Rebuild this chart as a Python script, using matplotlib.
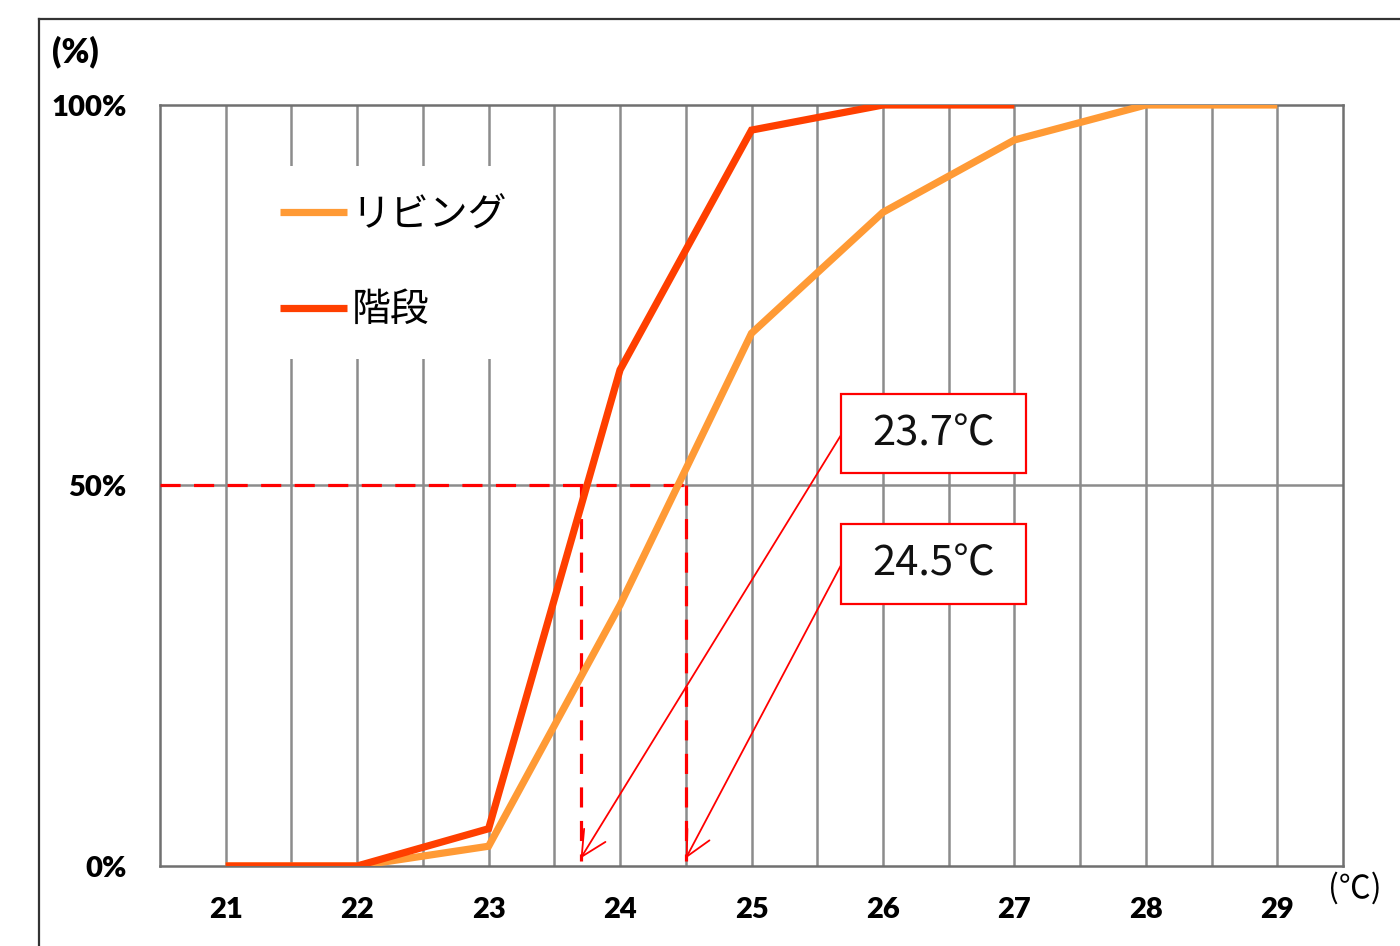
import matplotlib
matplotlib.use("Agg")
import matplotlib.pyplot as plt
from matplotlib.patches import Rectangle
from matplotlib.lines import Line2D

# temperature (℃) and cumulative share (%)
temps_living = [21, 22, 23, 24, 25, 26, 27, 28, 29]
share_living = [0, 0, 2.6, 34.3, 70.0, 85.9, 95.4, 100, 100]
temps_stairs = [21, 22, 23, 24, 25, 26, 27]
share_stairs = [0, 0, 4.9, 65.2, 96.7, 100, 100]
series_names = ["リビング", "階段"]
x_ticks = [21, 22, 23, 24, 25, 26, 27, 28, 29]
y_ticks = [0, 50, 100]
y_labels = ["0%", "50%", "100%"]
median_stairs = 23.7
median_living = 24.5
median_labels = ["23.7℃", "24.5℃"]

C_LIVING = "#FF9A35"
C_STAIRS = "#FF3F00"
C_RED = "#FF0000"
C_GRID = "#8C8C8C"

JP = ["Noto Sans CJK JP", "DejaVu Sans"]

fig = plt.figure(figsize=(14, 9.46), dpi=100)
ax = fig.add_axes([160 / 1400, 1 - 866 / 946, (1343 - 160) / 1400, (866 - 105) / 946])

ax.set_xlim(20.5, 29.5)
ax.set_ylim(0, 100)

# grid: vertical every half degree, horizontal at 50%
ax.set_xticks(x_ticks)
ax.set_yticks(y_ticks)
ax.set_yticklabels(y_labels)
for v in [x * 0.5 for x in range(42, 59)]:
    ax.axvline(v, color=C_GRID, lw=1.8, zorder=1)
ax.axhline(50, color=C_GRID, lw=1.8, zorder=1)
ax.tick_params(axis="both", which="both", length=0)
ax.tick_params(axis="x", pad=22)
ax.tick_params(axis="y", pad=24)
for lbl in ax.get_xticklabels() + ax.get_yticklabels():
    lbl.set_fontfamily("Lato")
    lbl.set_fontweight("heavy")
    lbl.set_fontsize(21)
for s in ax.spines.values():
    s.set_color("#707070")
    s.set_linewidth(1.8)

# reference lines at the 50% point
dash = (0, (6.3, 4.2))
ax.plot([20.5, median_living], [50, 50], color=C_RED, lw=2.3, ls=dash, zorder=3)
ax.plot([median_stairs, median_stairs], [50, 0.6], color=C_RED, lw=2.3, ls=dash, zorder=3)
ax.plot([median_living, median_living], [50, 0.6], color=C_RED, lw=2.3, ls=dash, zorder=3)

# series
ax.plot(temps_living, share_living, color=C_LIVING, lw=5.2,
        solid_capstyle="butt", solid_joinstyle="miter", label=series_names[0], zorder=4)
ax.plot(temps_stairs, share_stairs, color=C_STAIRS, lw=5.2,
        solid_capstyle="butt", solid_joinstyle="miter", label=series_names[1], zorder=5)

# callout boxes with arrows
boxes = [(25.68, 51.6, 1.41, 10.4, 56.6, median_stairs),
         (25.68, 34.4, 1.41, 10.5, 39.5, median_living)]
for (bx, by, bw, bh, ay, target), txt in zip(boxes, median_labels):
    ax.add_patch(Rectangle((bx, by), bw, bh, facecolor="white",
                           edgecolor=C_RED, lw=1.6, zorder=6))
    ax.text(bx + bw / 2, by + bh / 2, txt, ha="center", va="center",
            fontsize=30, family=JP, color="#111111", zorder=7)
    ax.annotate("", xy=(target, 1.0), xytext=(bx, ay),
                arrowprops=dict(arrowstyle="->,head_length=0.9,head_width=0.45",
                                color=C_RED, lw=1.3, mutation_scale=20,
                                shrinkA=0, shrinkB=0),
                zorder=6)

leg = ax.legend(loc="upper left", bbox_to_anchor=(0.077, 0.92),
                prop={"family": JP, "size": 28}, frameon=True,
                facecolor="white", edgecolor="none", framealpha=1,
                fancybox=False, handlelength=1.72, handletextpad=0.12,
                labelspacing=1.42, borderpad=0.75, borderaxespad=0)
leg.set_zorder(8)

# axis unit captions
fig.text(52 / 1400, 1 - 52 / 946, "(%)", fontsize=24, fontweight="heavy",
         family="Lato", ha="left", va="center")
fig.text(1328 / 1400, 1 - 888 / 946, "(℃)", fontsize=23, family=JP,
         ha="left", va="center")

# outer frame running off the right and bottom edges
fig.add_artist(Line2D([39 / 1400, 39 / 1400], [0, 1 - 19 / 946],
                      transform=fig.transFigure, color="#333333", lw=1.6))
fig.add_artist(Line2D([39 / 1400, 1], [1 - 19 / 946, 1 - 19 / 946],
                      transform=fig.transFigure, color="#333333", lw=1.6))

fig.savefig("out.png", dpi=100, facecolor="white")
